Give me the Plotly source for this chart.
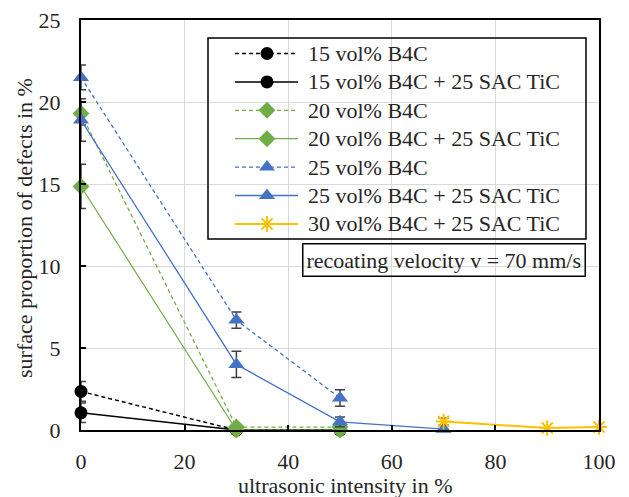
import plotly.graph_objects as go

# ultrasonic intensity (%) per measurement series
x_15 = [0, 30, 50]
x_20 = [0, 30, 50]
x_25_b4c = [0, 30, 50]
x_25_tic = [0, 30, 50, 70]
x_30_tic = [70, 90, 100]

# surface proportion of defects (%) and standard deviations
y_15_b4c = [2.35, 0.0, 0.0]
e_15_b4c = [0.6, 0.0, 0.0]
y_15_tic = [1.05, 0.0, 0.0]
e_15_tic = [0.6, 0.0, 0.0]
y_20_b4c = [19.3, 0.18, 0.18]
e_20_b4c = [0.7, 0.0, 0.0]
y_20_tic = [14.85, 0.0, 0.0]
e_20_tic = [1.35, 0.0, 0.0]
y_25_b4c = [21.5, 6.7, 1.95]
e_25_b4c = [0.75, 0.5, 0.5]
y_25_tic = [18.9, 4.0, 0.5, 0.05]
e_25_tic = [1.3, 0.8, 0.3, 0.0]
y_30_tic = [0.52, 0.12, 0.18]
e_30_tic = [0.2, 0.0, 0.0]

names = [
    "15 vol% B4C",
    "15 vol% B4C + 25 SAC TiC",
    "20 vol% B4C",
    "20 vol% B4C + 25 SAC TiC",
    "25 vol% B4C",
    "25 vol% B4C + 25 SAC TiC",
    "30 vol% B4C + 25 SAC TiC",
]
x_title = "ultrasonic intensity in %"
y_title = "surface proportion of defects in %"
note = "recoating velocity v = 70 mm/s"

FONT = "Liberation Serif, Times New Roman, Times, serif"
TXT = "#262626"
BLACK = "#000000"
GREEN = "#70AD47"
BLUE = "#4472C4"
ORANGE = "#FFC000"
ERR = "#404040"
DASH = "4px,3px"

series = [
    (x_15, y_15_b4c, e_15_b4c, BLACK, DASH, "circle", 13, 1.5),
    (x_15, y_15_tic, e_15_tic, BLACK, "solid", "circle", 13, 1.5),
    (x_20, y_20_b4c, e_20_b4c, GREEN, DASH, "diamond", 13, 1.3),
    (x_20, y_20_tic, e_20_tic, GREEN, "solid", "diamond", 13, 1.2),
    (x_25_b4c, y_25_b4c, e_25_b4c, BLUE, DASH, "triangle-up", 14, 1.3),
    (x_25_tic, y_25_tic, e_25_tic, BLUE, "solid", "triangle-up", 14, 1.3),
    (x_30_tic, y_30_tic, e_30_tic, ORANGE, "solid", "asterisk-open", 13, 2.0),
]

# plot-area geometry in pixels (used to place legend and titles)
W, H = 629, 497
L, R, T, B = 81, 30, 20, 67
PW, PH = W - L - R, H - T - B


def px_x(px):
    return (px - L) / PW


def px_y(py):
    return (H - B - py) / PH


def marker_for(col, sym, size):
    m = dict(symbol=sym, size=size, color=col)
    m["line"] = dict(color=col, width=2) if sym == "asterisk-open" else dict(width=0)
    return m


fig = go.Figure()
for name, (xs, ys, es, col, dash, sym, size, lw) in zip(names, series):
    fig.add_trace(go.Scatter(
        x=xs, y=ys, name=name, mode="lines+markers",
        line=dict(color=col, width=lw, dash=dash),
        marker=marker_for(col, sym, size),
        error_y=dict(type="data", array=es, visible=True,
                     color=ERR, thickness=1.5, width=5),
        cliponaxis=False, showlegend=False,
    ))

# legend: sample line + marker per series on an overlay axis spanning the plot area
row_y0, row_step = 53.5, 28.4
line_x0, line_x1, mark_x, text_x = 235, 298, 267, 306
annotations = []
for i, (name, (xs, ys, es, col, dash, sym, size, lw)) in enumerate(zip(names, series)):
    ry = px_y(row_y0 + i * row_step)
    fig.add_trace(go.Scatter(
        x=[px_x(line_x0), px_x(line_x1)], y=[ry, ry], mode="lines",
        line=dict(color=col, width=lw, dash=dash),
        xaxis="x2", yaxis="y2", showlegend=False, hoverinfo="skip",
        cliponaxis=False,
    ))
    fig.add_trace(go.Scatter(
        x=[px_x(mark_x)], y=[ry], mode="markers",
        marker=marker_for(col, sym, size),
        xaxis="x2", yaxis="y2", showlegend=False, hoverinfo="skip",
        cliponaxis=False,
    ))
    annotations.append(dict(
        text=name, xref="paper", yref="paper", x=px_x(text_x), y=ry,
        xanchor="left", yanchor="middle", showarrow=False,
        font=dict(family=FONT, size=22, color=TXT),
    ))

annotations.append(dict(
    text=note,
    xref="paper", yref="paper", x=px_x(586), y=px_y(243),
    xanchor="right", yanchor="top", showarrow=False,
    bordercolor=BLACK, borderwidth=1.5, borderpad=3,
    font=dict(family=FONT, size=22, color=TXT),
))

# axis titles
annotations.append(dict(
    text=x_title, xref="paper", yref="paper", x=px_x(345), y=px_y(485),
    xanchor="center", yanchor="middle", showarrow=False,
    font=dict(family=FONT, size=22, color=TXT),
))
annotations.append(dict(
    text=y_title, xref="paper", yref="paper", x=px_x(24), y=px_y(228),
    xanchor="center", yanchor="middle", showarrow=False, textangle=-90,
    font=dict(family=FONT, size=22, color=TXT),
))

axis_common = dict(
    showgrid=True, gridcolor="#D9D9D9", gridwidth=1,
    showline=True, linecolor=BLACK, linewidth=2, mirror=True,
    ticks="inside", ticklen=5, tickwidth=1.5, tickcolor=BLACK,
    tickfont=dict(family=FONT, size=22, color=TXT),
    zeroline=False, automargin=False,
)

fig.update_layout(
    xaxis=dict(range=[0, 100], dtick=20, tick0=0, **axis_common,
               ticklabelstandoff=11),
    yaxis=dict(range=[0, 25], dtick=5, tick0=0, **axis_common,
               ticklabelstandoff=14),
    xaxis2=dict(overlaying="x", range=[0, 1], visible=False, anchor="y2",
                automargin=False),
    yaxis2=dict(overlaying="y", range=[0, 1], visible=False, anchor="x2",
                automargin=False),
    width=W, height=H,
    margin=dict(l=L, r=R, t=T, b=B, autoexpand=False),
    paper_bgcolor="white", plot_bgcolor="white",
    font=dict(family=FONT, size=22, color=TXT),
    showlegend=False,
    annotations=annotations,
    shapes=[dict(
        type="rect", xref="paper", yref="paper",
        x0=px_x(208), x1=px_x(586), y0=px_y(239), y1=px_y(38),
        line=dict(color=BLACK, width=1.5), fillcolor="rgba(0,0,0,0)",
    )],
)

fig.write_html("out.html")
